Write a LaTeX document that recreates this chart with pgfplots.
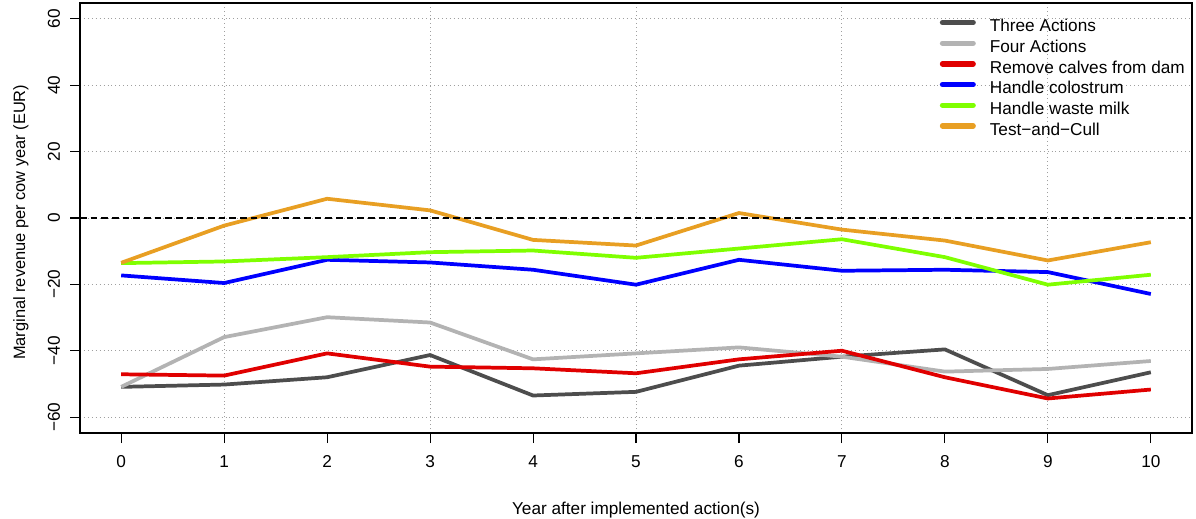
\documentclass[border=0pt]{standalone}
\usepackage{fontspec}
\setmainfont{Liberation Sans}
\usepackage{pgfplots}
\pgfplotsset{compat=1.18}
\definecolor{cthree}{RGB}{77,77,77}
\definecolor{cfour}{RGB}{179,179,179}
\definecolor{cred}{RGB}{224,0,0}
\definecolor{cblue}{RGB}{0,0,255}
\definecolor{cgreen}{RGB}{127,255,0}
\definecolor{corange}{RGB}{232,159,35}
\begin{document}
\begin{tikzpicture}
\path[use as bounding box] (0,0) rectangle (897pt,388.5pt);
\begin{axis}[
  at={(60pt,63.75pt)}, anchor=south west,
  scale only axis, width=834pt, height=322.5pt,
  xmin=-0.4, xmax=10.4, ymin=-64.8, ymax=64.8,
  xtick={0,1,...,10}, ytick={-60,-40,-20,0,20,40,60},
  yticklabels={−60,−40,−20,0,20,40,60},
  minor xtick={1,3,5,7,9},
  minor tick length=0pt,
  xminorgrids, ymajorgrids,
  grid style={gray!75, line width=0.75pt, dash pattern=on 0.75pt off 2.2pt},
  minor grid style={gray!75, line width=0.75pt, dash pattern=on 0.75pt off 2.2pt},
  axis line style={black, line width=1.1pt},
  tick align=outside, xtick pos=bottom, ytick pos=left,
  major tick length=7.5pt,
  tick style={black, line width=0.8pt},
  every tick label/.append style={font=\fontsize{12.9}{15}\selectfont},
  /pgf/number format/assume math mode=true,
  yticklabel style={rotate=90, anchor=south, yshift=4pt},
  xticklabel style={yshift=-6pt},
  xlabel={Year after implemented action(s)},
  ylabel={Marginal revenue per cow year (EUR)},
  xlabel style={font=\fontsize{12.9}{15}\selectfont, at={(axis description cs:0.5,0)}, anchor=north, yshift=-48pt},
  ylabel style={font=\fontsize{12.3}{15}\selectfont, at={(axis description cs:0,0.49)}, anchor=south, yshift=35pt},
  legend style={draw=none, fill=none, at={(0.773,0.963)}, anchor=north west,
    font=\fontsize{12.9}{15}\selectfont, row sep=3.5pt, inner sep=0pt,
    nodes={inner sep=0pt, text height=9.5pt, text depth=2.5pt},
    /tikz/every odd column/.append style={column sep=10.5pt}},
  legend cell align=left,
  legend image code/.code={\draw[#1, line width=4pt, line cap=round] (2pt,3.5pt) -- (25pt,3.5pt);},
  every axis plot/.append style={line width=2.8pt, line join=round},
]
\addplot[cthree] coordinates {(0,-50.9) (1,-50.2) (2,-48.0) (3,-41.3) (4,-53.5) (5,-52.4) (6,-44.5) (7,-41.8) (8,-39.6) (9,-53.4) (10,-46.5)};
\addlegendentry{Three Actions}
\addplot[cfour] coordinates {(0,-50.9) (1,-35.9) (2,-29.9) (3,-31.5) (4,-42.6) (5,-40.8) (6,-39.0) (7,-41.8) (8,-46.3) (9,-45.5) (10,-43.1)};
\addlegendentry{Four Actions}
\addplot[cred] coordinates {(0,-47.1) (1,-47.5) (2,-40.8) (3,-44.8) (4,-45.3) (5,-46.8) (6,-42.6) (7,-40.0) (8,-48.0) (9,-54.4) (10,-51.7)};
\addlegendentry{Remove calves from dam}
\addplot[cblue] coordinates {(0,-17.3) (1,-19.6) (2,-12.6) (3,-13.4) (4,-15.6) (5,-20.1) (6,-12.6) (7,-15.9) (8,-15.6) (9,-16.3) (10,-22.9)};
\addlegendentry{Handle colostrum}
\addplot[cgreen] coordinates {(0,-13.6) (1,-13.1) (2,-11.8) (3,-10.3) (4,-9.8) (5,-12.0) (6,-9.2) (7,-6.4) (8,-11.8) (9,-20.1) (10,-17.1)};
\addlegendentry{Handle waste milk}
\addplot[corange] coordinates {(0,-13.5) (1,-2.3) (2,5.8) (3,2.3) (4,-6.6) (5,-8.3) (6,1.5) (7,-3.5) (8,-6.8) (9,-12.8) (10,-7.3)};
\addlegendentry{Test−and−Cull}
\addplot[black, line width=1.4pt, dash pattern=on 5pt off 3pt, forget plot] coordinates {(-0.4,0) (10.4,0)};
\end{axis}
\end{tikzpicture}
\end{document}
